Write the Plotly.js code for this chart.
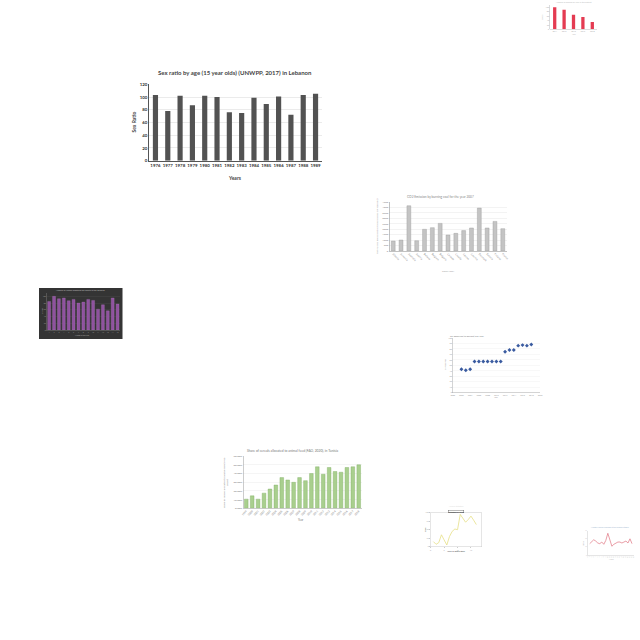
<!DOCTYPE html>
<html>
<head>
<meta charset="utf-8">
<script src="https://cdn.plot.ly/plotly-3.0.1.min.js"></script>
<style>html,body{margin:0;padding:0;background:#fff;}#chart{width:640px;height:640px;}</style>
</head>
<body>
<div id="chart"></div>
<script>
// ---------- data ----------
const years = ['1976','1977','1978','1979','1980','1981','1982','1983','1984','1985','1986','1987','1988','1989'];
const sexRatio = [103, 78, 102, 87, 102, 100, 76, 75, 99, 89, 101, 72, 103, 105];

const redCats = ['2014','2015','2016','2017','2018'];
const redValues = [100, 88, 66, 56, 33];

const coalCountries = ['Albania','Armenia','Australia','Austria','Belarus','Belgium','Bulgaria','Canada','Croatia','Cyprus','Czechia','Denmark','Estonia','Finland','France'];
const coalEmission = [910, 1000, 4130, 940, 1980, 2130, 2520, 1460, 1610, 1860, 2100, 3920, 2100, 2700, 2040];

const purpleCats = ['1','2','3','4','5','6','7','8','9','10','11','12','13','14','15'];
const purpleValues = [85, 100, 93, 95, 87, 91, 80, 83, 91, 88, 62, 75, 57, 95, 77];

const oilYears = [2002,2003,2004,2005,2006,2007,2008,2009,2010,2011,2012,2013,2014,2015,2016,2017,2018];
const oilReserves = [43, 41, 43, 57, 57, 57, 57, 57, 57, 57, 75, 78, 78, 86, 87, 86, 88];

const feedYears = ['1999','2000','2001','2002','2003','2004','2005','2006','2007','2008','2009','2010','2011','2012','2013','2014','2015','2016','2017','2018'];
const feedShare = [10.5, 14.3, 10.5, 17.4, 22.1, 26.7, 35.2, 32.5, 29.8, 35.2, 31.7, 39.9, 47.6, 39.1, 46.8, 42.2, 41.4, 46.8, 47.6, 49.9];

const yellowX = [1,2,3,4,5,6,7,8,9,10,11,12,13,14,15,16,17];
const yellowY = [15, 7, 12, 35, 20, 5, 30, 45, 52, 50, 95, 82, 72, 80, 90, 78, 65];

const pinkX = [1,2,3,4,5,6,7,8,9,10,11,12,13,14,15,16,17,18,19,20,21,22];
const pinkY = [35, 40, 47, 43, 37, 35, 40, 33, 45, 67, 45, 27, 33, 37, 40, 40, 37, 40, 43, 37, 50, 35];

// ---------- helpers ----------
const W = 640, H = 640;
const px = v => v / W;
const py = v => 1 - v / H;
const dx = (a, b) => [px(a), px(b)];
const dy = (top, bottom) => [py(bottom), py(top)];
const ann = (text, x, y, size, color, opts) => Object.assign({
  text: text, xref: 'paper', yref: 'paper', x: px(x), y: py(y),
  xanchor: 'center', yanchor: 'middle', showarrow: false,
  font: {size: size, color: color, family: 'Lato, DejaVu Sans, sans-serif'}
}, opts || {});

const traces = [];
const layout = {
  width: W, height: H, margin: {l: 0, r: 0, t: 0, b: 0},
  paper_bgcolor: '#ffffff', plot_bgcolor: 'rgba(0,0,0,0)',
  showlegend: false, bargap: 0.6,
  font: {family: 'Lato, DejaVu Sans, sans-serif'},
  annotations: [], shapes: []
};

// ---------- 1. main chart: Lebanon sex ratio ----------
traces.push({type: 'bar', x: years, y: sexRatio, xaxis: 'x', yaxis: 'y',
  marker: {color: '#525252'}, width: 0.42});
layout.xaxis = {domain: dx(149.3, 321.7), anchor: 'y', type: 'category',
  showline: true, linecolor: '#555', linewidth: 1, ticks: '', tickangle: 0,
  tickfont: {size: 4.4, color: '#333', family: 'Lato', weight: 'bold'}, fixedrange: true};
layout.yaxis = {domain: dy(84.3, 160.7), anchor: 'x', range: [0, 120], dtick: 20,
  showline: true, linecolor: '#555', linewidth: 1, ticks: '', gridcolor: '#dddddd', gridwidth: 0.6,
  zeroline: false, tickfont: {size: 4.4, color: '#333', family: 'Lato', weight: 'bold'}, fixedrange: true};
layout.annotations.push(ann('Sex ratio by age (15 year olds) (UNWPP, 2017) in Lebanon', 235, 73, 6, '#444', {font: {size: 6, color: '#444', family: 'Lato', weight: 'bold'}}));
layout.annotations.push(ann('Years', 235, 177.5, 5, '#444', {font: {size: 5, color: '#444', family: 'Lato', weight: 'bold'}}));
layout.annotations.push(ann('Sex Ratio', 133.5, 122, 5, '#444', {textangle: -90, font: {size: 5, color: '#444', family: 'Lato', weight: 'bold'}}));

// ---------- 2. top-right red hatched bars ----------
traces.push({type: 'bar', x: redCats, y: redValues, xaxis: 'x2', yaxis: 'y2', width: 0.35,
  marker: {color: '#e0263f', pattern: {shape: '-', fillmode: 'overlay', bgcolor: '#e0263f', fgcolor: '#f7b3bc', size: 2, solidity: 0.3}}});
layout.xaxis2 = {domain: dx(550, 597), anchor: 'y2', type: 'category', showline: true, linecolor: '#bbb', linewidth: 0.5,
  ticks: '', tickangle: 0, tickfont: {size: 2, color: '#aaa'}, fixedrange: true};
layout.yaxis2 = {domain: dy(5, 29.3), anchor: 'x2', range: [0, 110], dtick: 20, showline: true, linecolor: '#bbb', linewidth: 0.5,
  showgrid: false, zeroline: false, ticks: '', tickfont: {size: 2, color: '#aaa'}, fixedrange: true};
layout.annotations.push(ann('Number of schools by year in the district', 574, 2, 2, '#bbb'));
layout.annotations.push(ann('Year', 574, 34, 2, '#bbb'));
layout.annotations.push(ann('Count', 542, 17, 2, '#bbb', {textangle: -90}));

// ---------- 3. CO2 emission by burning coal ----------
traces.push({type: 'bar', x: coalCountries, y: coalEmission, xaxis: 'x3', yaxis: 'y3', width: 0.5,
  marker: {color: '#c4c4c4', line: {color: '#9a9a9a', width: 0.4}}});
layout.xaxis3 = {domain: dx(389.3, 506.7), anchor: 'y3', type: 'category', showline: true, linecolor: '#999', linewidth: 0.6,
  ticks: '', tickangle: 45, tickfont: {size: 2.6, color: '#888'}, fixedrange: true};
layout.yaxis3 = {domain: dy(201.7, 251), anchor: 'x3', range: [0, 4500], dtick: 500, showline: true, linecolor: '#999', linewidth: 0.6,
  gridcolor: '#e8e8e8', gridwidth: 0.5, zeroline: false, ticks: '', tickfont: {size: 2.6, color: '#888'}, fixedrange: true};
layout.annotations.push(ann('CO2 Emission by burning coal for the year 2007', 440, 196.5, 3.2, '#888'));
layout.annotations.push(ann('COUNTRY', 448, 271, 2.6, '#999'));
layout.annotations.push(ann('TOTAL CO2 EMISSION(IN THOUSANDS OF TONNES)', 377, 226, 2.3, '#999', {textangle: -90}));

// ---------- 4. dark purple chart ----------
layout.shapes.push({type: 'rect', xref: 'paper', yref: 'paper', x0: px(39), x1: px(122.5), y0: py(339), y1: py(288),
  fillcolor: '#343434', line: {width: 0}, layer: 'below'});
traces.push({type: 'bar', x: purpleCats, y: purpleValues, xaxis: 'x4', yaxis: 'y4', width: 0.6,
  marker: {color: '#8f529f', line: {color: '#b27cc0', width: 0.3}}});
layout.xaxis4 = {domain: dx(46.7, 120), anchor: 'y4', type: 'category', showline: true, linecolor: '#777', linewidth: 0.5,
  ticks: '', tickangle: 0, tickfont: {size: 1.8, color: '#999'}, fixedrange: true};
layout.yaxis4 = {domain: dy(293, 330), anchor: 'x4', range: [0, 110], dtick: 20, showline: true, linecolor: '#777', linewidth: 0.5,
  gridcolor: '#4a4a4a', gridwidth: 0.4, zeroline: false, ticks: '', tickfont: {size: 1.8, color: '#999'}, fixedrange: true};
layout.annotations.push(ann('Number of visitors registered per month at the museum', 80, 290, 2, '#bdbdbd'));
layout.annotations.push(ann('Month of the year', 82, 335, 1.8, '#aaa'));
layout.annotations.push(ann('Visitors', 42, 311, 1.8, '#aaa', {textangle: -90}));

// ---------- 5. oil reserves scatter ----------
traces.push({type: 'scatter', mode: 'markers', x: oilYears, y: oilReserves, xaxis: 'x5', yaxis: 'y5',
  marker: {color: '#3a5ba0', size: 3, symbol: 'diamond'}});
layout.xaxis5 = {domain: dx(452.7, 540), anchor: 'y5', range: [2000, 2020], dtick: 2, showline: true, linecolor: '#aaa', linewidth: 0.5,
  showgrid: false, zeroline: false, ticks: '', tickfont: {size: 2, color: '#999'}, fixedrange: true};
layout.yaxis5 = {domain: dy(338, 392.7), anchor: 'x5', range: [0, 100], dtick: 10, showline: true, linecolor: '#aaa', linewidth: 0.5,
  gridcolor: '#eeeeee', gridwidth: 0.4, zeroline: false, ticks: '', tickfont: {size: 2, color: '#999'}, fixedrange: true};
layout.annotations.push(ann('Oil Reserves (in barrels) Per Year', 467, 336, 2.4, '#777'));
layout.annotations.push(ann('Year', 496, 397, 2, '#999'));
layout.annotations.push(ann('Oil Reserves', 445, 365, 2, '#999', {textangle: -90}));

// ---------- 6. Tunisia animal feed ----------
traces.push({type: 'bar', x: feedYears, y: feedShare, xaxis: 'x6', yaxis: 'y6', width: 0.62,
  marker: {color: '#a9cf8e', line: {color: '#7fae62', width: 0.4}}});
layout.xaxis6 = {domain: dx(243.3, 361.7), anchor: 'y6', type: 'category', showline: true, linecolor: '#999', linewidth: 0.5,
  ticks: '', tickangle: -45, tickfont: {size: 2.6, color: '#777'}, fixedrange: true};
layout.yaxis6 = {domain: dy(456, 508.3), anchor: 'x6', range: [0, 60], dtick: 10, ticksuffix: '.00%', showline: true, linecolor: '#999', linewidth: 0.5,
  gridcolor: '#e6e6e6', gridwidth: 0.4, zeroline: false, ticks: '', tickfont: {size: 2.6, color: '#777'}, fixedrange: true};
layout.annotations.push(ann('Share of cereals allocated to animal feed (FAO, 2020), in Tunisia', 292, 451, 3.3, '#777'));
layout.annotations.push(ann('Year', 300, 520, 2.8, '#777'));
layout.annotations.push(ann('Share of cereals allocated to animal feed (FAO,<br>2020)', 226, 483, 2.5, '#777', {textangle: -90}));

// ---------- 7. yellow line chart ----------
traces.push({type: 'scatter', mode: 'lines', x: yellowX, y: yellowY, xaxis: 'x7', yaxis: 'y7',
  line: {color: '#e6df86', width: 0.8}});
layout.xaxis7 = {domain: dx(430.7, 481.7), anchor: 'y7', range: [0, 19], dtick: 5, showline: true, mirror: true, linecolor: '#ccc', linewidth: 0.5,
  showgrid: false, zeroline: false, ticks: 'outside', ticklen: 1, tickcolor: '#ccc', tickfont: {size: 2, color: '#aaa'}, fixedrange: true};
layout.yaxis7 = {domain: dy(512.7, 546.7), anchor: 'x7', range: [0, 100], dtick: 25, showline: true, mirror: true, linecolor: '#ccc', linewidth: 0.5,
  showgrid: false, zeroline: false, ticks: 'outside', ticklen: 1, tickcolor: '#ccc', tickfont: {size: 2, color: '#aaa'}, fixedrange: true};
layout.annotations.push(ann('Annual statistics', 456, 505.5, 2, '#ddd'));
layout.annotations.push(ann('Statistics of sales', 456, 511, 2, '#333', {bordercolor: '#555', borderwidth: 0.4, borderpad: 0.3}));
layout.annotations.push(ann('Years of observation', 456, 551, 2, '#444'));
layout.annotations.push(ann('Sales', 425, 530, 2, '#444', {textangle: -90}));

// ---------- 8. pink line chart ----------
traces.push({type: 'scatter', mode: 'lines', x: pinkX, y: pinkY, xaxis: 'x8', yaxis: 'y8',
  line: {color: '#e0727f', width: 0.7}});
layout.xaxis8 = {domain: dx(587.7, 634), anchor: 'y8', range: [0, 23], dtick: 1, showline: true, linecolor: '#ccc', linewidth: 0.5,
  showgrid: false, zeroline: false, ticks: '', tickfont: {size: 1.3, color: '#ccc'}, fixedrange: true};
layout.yaxis8 = {domain: dy(530.7, 555), anchor: 'x8', range: [0, 75], dtick: 25, showline: true, linecolor: '#ccc', linewidth: 0.5,
  showgrid: false, zeroline: false, ticks: '', tickfont: {size: 1.5, color: '#ccc'}, fixedrange: true};
layout.annotations.push(ann('Monthly rainfall recorded at the weather station', 610, 527, 1.8, '#9fb7d0'));
layout.annotations.push(ann('Month', 611, 558.5, 1.6, '#bbb'));
layout.annotations.push(ann('Rainfall', 583, 543, 1.6, '#bbb', {textangle: -90}));

Plotly.newPlot('chart', traces, layout, {displayModeBar: false, staticPlot: true});
</script>
</body>
</html>
